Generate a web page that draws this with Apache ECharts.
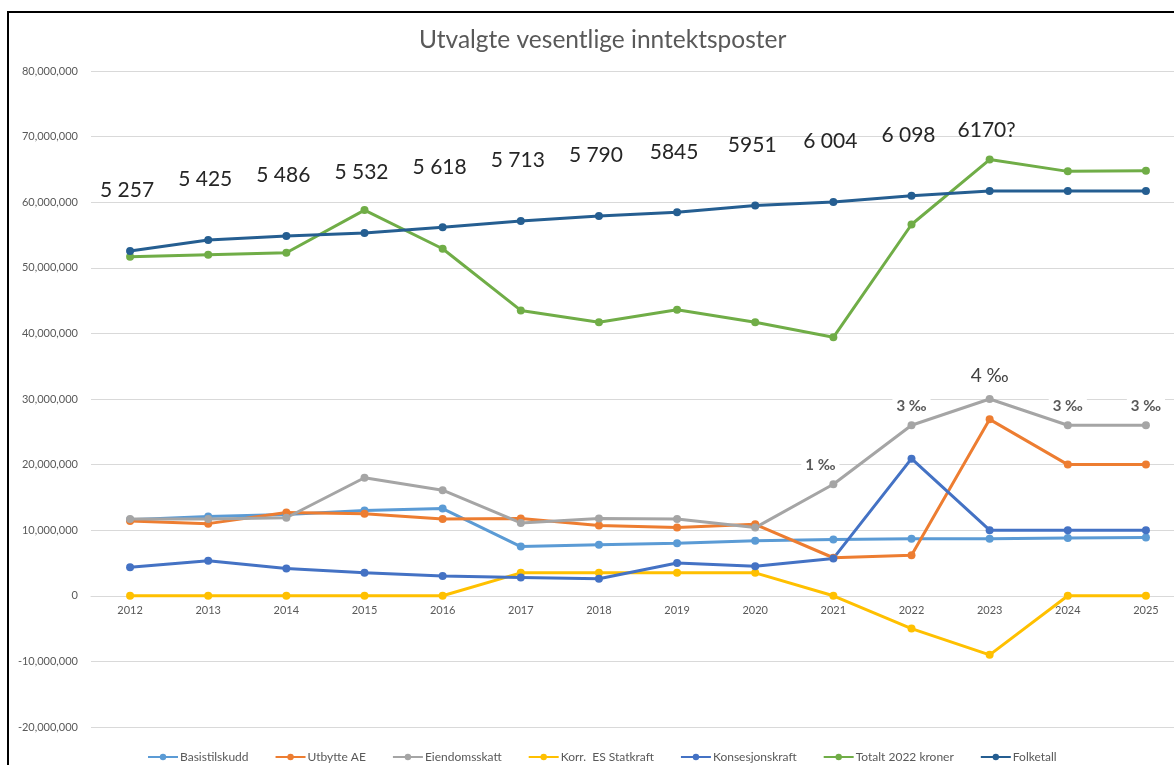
<!DOCTYPE html>
<html>
<head>
<meta charset="utf-8">
<script src="https://cdn.jsdelivr.net/npm/echarts@6/dist/echarts.min.js"></script>
<style>
html,body{margin:0;padding:0;background:#fff;}
#c{width:1174px;height:765px;}
</style>
</head>
<body>
<div id="c"></div>
<script>
const years = ['2012','2013','2014','2015','2016','2017','2018','2019','2020','2021','2022','2023','2024','2025'];
const basistilskudd = [11600000,12100000,12400000,13000000,13300000,7500000,7800000,8000000,8400000,8600000,8700000,8700000,8800000,8900000];
const utbytteAE = [11400000,11000000,12700000,12500000,11700000,11800000,10700000,10400000,10900000,5800000,6200000,26900000,20000000,20000000];
const eiendomsskatt = [11700000,11700000,11900000,18000000,16100000,11100000,11800000,11700000,10400000,17000000,26000000,30000000,26000000,26000000];
const korrStatkraft = [0,0,0,0,0,3500000,3500000,3500000,3500000,0,-5000000,-9000000,0,0];
const konsesjonskraft = [4350000,5350000,4150000,3500000,3000000,2800000,2600000,5000000,4500000,5700000,20900000,10000000,10000000,10000000];
const totalt2022 = [51700000,52000000,52300000,58800000,52900000,43500000,41700000,43600000,41700000,39400000,56600000,66500000,64700000,64800000];
const folketall = [52570000,54250000,54860000,55320000,56180000,57130000,57900000,58450000,59510000,60040000,60980000,61700000,61700000,61700000];
const folketallLabels = ['5 257','5 425','5 486','5 532','5 618','5 713','5 790','5845','5951','6 004','6 098','6170?','',''];
const promilleLabels = ['','','','','','','','','','1 ‰','3 ‰','4 ‰','3 ‰','3 ‰'];
const yTicks = {min:-20000000, max:80000000, interval:10000000};

const FONT = 'Lato, "Open Sans", sans-serif';
const GREY = '#595959';

function fmt(v){
  const s = Math.abs(v).toString().replace(/\B(?=(\d{3})+(?!\d))/g, ',');
  return (v < 0 ? '-' : '') + s;
}

function mkSeries(name, data, color, extra){
  return Object.assign({
    name: name,
    type: 'line',
    data: data,
    symbol: 'circle',
    symbolSize: 8,
    lineStyle: {width: 3, color: color},
    itemStyle: {color: color},
    emphasis: {disabled: true},
    animation: false
  }, extra || {});
}

const GRID_TOP = 71, GRID_BOTTOM = 38, H = 765;
// distance from the bottom of the plot to the zero line, in pixels
const zeroShift = (H - GRID_TOP - GRID_BOTTOM) * (0 - yTicks.min) / (yTicks.max - yTicks.min);

const chart = echarts.init(document.getElementById('c'), null, {renderer:'canvas'});
chart.setOption({
  backgroundColor: '#fff',
  animation: false,
  title: {
    text: 'Utvalgte vesentlige inntektsposter',
    left: 414, top: 23,
    textStyle: {fontFamily: FONT, fontSize: 24.5, fontWeight: 'normal', color: GREY}
  },
  graphic: [{
    type: 'rect', silent: true, z: 100,
    shape: {x: 8, y: 12, width: 1200, height: 800},
    style: {fill: 'none', stroke: '#000', lineWidth: 2}
  }],
  legend: {
    bottom: 0, left: 147, padding: [0, 0, 2, 0],
    itemWidth: 30, itemHeight: 8, itemGap: 26,
    textStyle: {fontFamily: FONT, fontSize: 12, color: GREY, padding: [0,0,0,-3]},
    data: ['Basistilskudd','Utbytte AE','Eiendomsskatt','Korr.  ES Statkraft','Konsesjonskraft','Totalt 2022 kroner','Folketall']
  },
  grid: {left: 91, right: -11, top: GRID_TOP, bottom: GRID_BOTTOM, outerBoundsMode: 'none', containLabel: false},
  xAxis: {
    type: 'category',
    data: years,
    boundaryGap: true,
    position: 'bottom',
    offset: -zeroShift,
    axisLine: {onZero: false, lineStyle: {color: '#D9D9D9', width: 1}},
    axisTick: {show: false},
    axisLabel: {fontFamily: FONT, fontSize: 11, color: GREY, margin: 9}
  },
  yAxis: {
    type: 'value',
    min: yTicks.min, max: yTicks.max, interval: yTicks.interval,
    axisLine: {show: false},
    axisTick: {show: false},
    splitLine: {lineStyle: {color: '#D9D9D9', width: 1}},
    axisLabel: {fontFamily: FONT, fontSize: 11, color: GREY, margin: 13, formatter: fmt}
  },
  series: [
    mkSeries('Basistilskudd', basistilskudd, '#5B9BD5'),
    mkSeries('Utbytte AE', utbytteAE, '#ED7D31'),
    mkSeries('Eiendomsskatt', eiendomsskatt.map((v,i)=>({
      value: v,
      label: promilleLabels[i] ? {
        show: true,
        formatter: promilleLabels[i],
        fontSize: i === 11 ? 19 : 15,
        fontWeight: i === 11 ? 'normal' : 'bold',
        color: i === 11 ? '#404040' : GREY,
        offset: i === 9 ? [-13, 0] : [0, 0],
        distance: i === 11 ? 10 : 8
      } : {show: false}
    })), '#A5A5A5', {
      label: {position: 'top', fontFamily: FONT, backgroundColor: '#fff', padding: [0,4]}
    }),
    mkSeries('Korr.  ES Statkraft', korrStatkraft, '#FFC000'),
    mkSeries('Konsesjonskraft', konsesjonskraft, '#4472C4'),
    mkSeries('Totalt 2022 kroner', totalt2022, '#70AD47'),
    mkSeries('Folketall', folketall.map((v,i)=>({
      value: v,
      label: folketallLabels[i] ? {show: true, formatter: folketallLabels[i]} : {show: false}
    })), '#255E91', {
      label: {position: 'top', distance: 46, fontFamily: FONT, fontSize: 21, color: '#262626', offset: [-3, 0]}
    })
  ]
});
</script>
</body>
</html>
